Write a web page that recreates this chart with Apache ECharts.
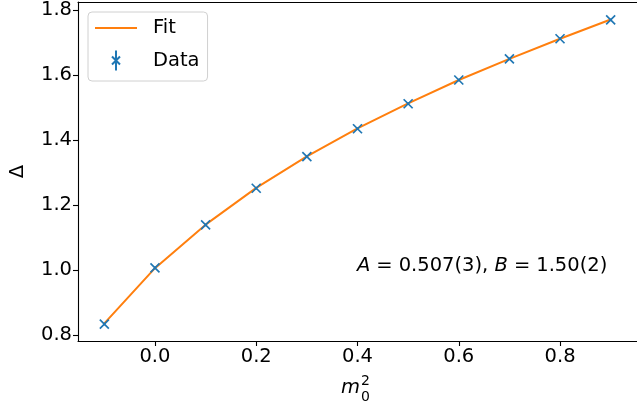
<!DOCTYPE html>
<html><head><meta charset="utf-8">
<script src="https://cdn.jsdelivr.net/npm/echarts@6/dist/echarts.min.js"></script>
<style>html,body{margin:0;padding:0;background:#fff}#c{width:637px;height:413px}</style>
</head><body><div id="c"></div>
<script>
const xValues = [-0.1, 0.0, 0.1, 0.2, 0.3, 0.4, 0.5, 0.6, 0.7, 0.8, 0.9];
const dataValues = [0.834, 1.007, 1.139, 1.252, 1.349, 1.435, 1.512, 1.585, 1.650, 1.712, 1.770];
const dataErrors = [0.004, 0.004, 0.004, 0.004, 0.004, 0.004, 0.004, 0.004, 0.004, 0.004, 0.004];
const fitValues = [0.836, 1.006, 1.140, 1.253, 1.350, 1.436, 1.513, 1.585, 1.650, 1.712, 1.771];
const xTicks = [0.0, 0.2, 0.4, 0.6, 0.8];
const yTicks = [0.8, 1.0, 1.2, 1.4, 1.6, 1.8];
const annotation = ['A', '=', '0.507(3), ', 'B', '=', '1.50(2)'];

const blue = '#1f77b4', orange = '#ff7f0e';
const font = 'DejaVu Sans';
const fs = 19.5;
const chart = echarts.init(document.getElementById('c'));

const dataSeries = xValues.map((x, i) => [x, dataValues[i], dataErrors[i]]);
const fitSeries = xValues.map((x, i) => [x, fitValues[i]]);

chart.setOption({
  animation: false,
  grid: {left: 77, right: 0, top: 2, bottom: 72, show: false},
  xAxis: [{
    type: 'value', min: -0.152, max: 0.952,
    axisLine: {onZero: false, lineStyle: {color: '#000', width: 1.1}},
    axisTick: {show: true, inside: false, length: 5, lineStyle: {color: '#000', width: 1.1}, customValues: xTicks},
    axisLabel: {color: '#000', fontFamily: font, fontSize: fs, margin: 6, customValues: xTicks,
      formatter: v => v.toFixed(1)},
    splitLine: {show: false}
  }, {
    type: 'value', position: 'top', min: -0.152, max: 0.952,
    axisLine: {show: true, onZero: false, lineStyle: {color: '#000', width: 1.1}},
    axisTick: {show: false}, axisLabel: {show: false}, splitLine: {show: false}
  }],
  yAxis: {
    type: 'value', min: 0.782, max: 1.825,
    name: 'Δ', nameLocation: 'middle', nameGap: 50, nameRotate: 90,
    nameTextStyle: {color: '#000', fontFamily: font, fontSize: fs},
    axisLine: {show: true, onZero: false, lineStyle: {color: '#000', width: 1.1}},
    axisTick: {show: true, inside: false, length: 5, lineStyle: {color: '#000', width: 1.1}, customValues: yTicks},
    axisLabel: {color: '#000', fontFamily: font, fontSize: fs, margin: 6, customValues: yTicks,
      formatter: v => v.toFixed(1)},
    splitLine: {show: false}
  },
  legend: {
    orient: 'vertical', left: 88, top: 12,
    padding: [6, 8, 8, 7], itemGap: 10, itemWidth: 42, itemHeight: 20,
    symbolKeepAspect: true,
    backgroundColor: '#fff', borderColor: '#d0d0d0', borderWidth: 1, borderRadius: 4,
    textStyle: {color: '#000', fontFamily: font, fontSize: fs, lineHeight: 20, padding: [0, 0, 0, 11]},
    data: [
      {name: 'Fit', icon: 'path://M0,0L42,0L42,2L0,2Z', itemStyle: {color: orange, borderWidth: 0}},
      {name: 'Data', icon: 'path://M5,0L5,20M1,6L9,14M9,6L1,14',
        itemStyle: {color: 'none', borderColor: blue, borderWidth: 2}}
    ]
  },
  series: [
    {
      name: 'Fit', type: 'line', data: fitSeries, symbol: 'none', showSymbol: false,
      lineStyle: {color: orange, width: 2}, itemStyle: {color: orange}, z: 2
    },
    {
      name: 'Data', type: 'custom', data: dataSeries, z: 3,
      itemStyle: {color: blue},
      encode: {x: 0, y: 1},
      renderItem: function (params, api) {
        const x = api.value(0), y = api.value(1), e = api.value(2);
        const p = api.coord([x, y]);
        const top = api.coord([x, y + e]), bot = api.coord([x, y - e]);
        const s = 4.5;
        const st = {stroke: blue, lineWidth: 1.7, fill: null};
        return {type: 'group', children: [
          {type: 'line', shape: {x1: top[0], y1: top[1], x2: bot[0], y2: bot[1]}, style: st},
          {type: 'line', shape: {x1: p[0]-s, y1: p[1]-s, x2: p[0]+s, y2: p[1]+s}, style: st},
          {type: 'line', shape: {x1: p[0]-s, y1: p[1]+s, x2: p[0]+s, y2: p[1]-s}, style: st}
        ]};
      }
    }
  ],
  graphic: [
    {type: 'text', left: 357, top: 256,
      style: {text: '{i|' + annotation[0] + '}{e|' + annotation[1] + '}{n|' + annotation[2] + '}{i|' + annotation[3] + '}{e|' + annotation[4] + '}{n|' + annotation[5] + '}',
        rich: {i: {fontFamily: font, fontSize: fs, fontStyle: 'italic', fill: '#000'},
               e: {fontFamily: font, fontSize: fs, fill: '#000', padding: [0, 6, 0, 6]},
               n: {fontFamily: font, fontSize: fs, fill: '#000'}}}},
    {type: 'text', left: 341, top: 378, style: {text: 'm', fontFamily: font, fontSize: fs, fontStyle: 'italic', fill: '#000'}},
    {type: 'text', left: 361, top: 374, style: {text: '2', fontFamily: font, fontSize: 14, fill: '#000'}},
    {type: 'text', left: 361, top: 390, style: {text: '0', fontFamily: font, fontSize: 14, fill: '#000'}}
  ]
});
</script></body></html>
